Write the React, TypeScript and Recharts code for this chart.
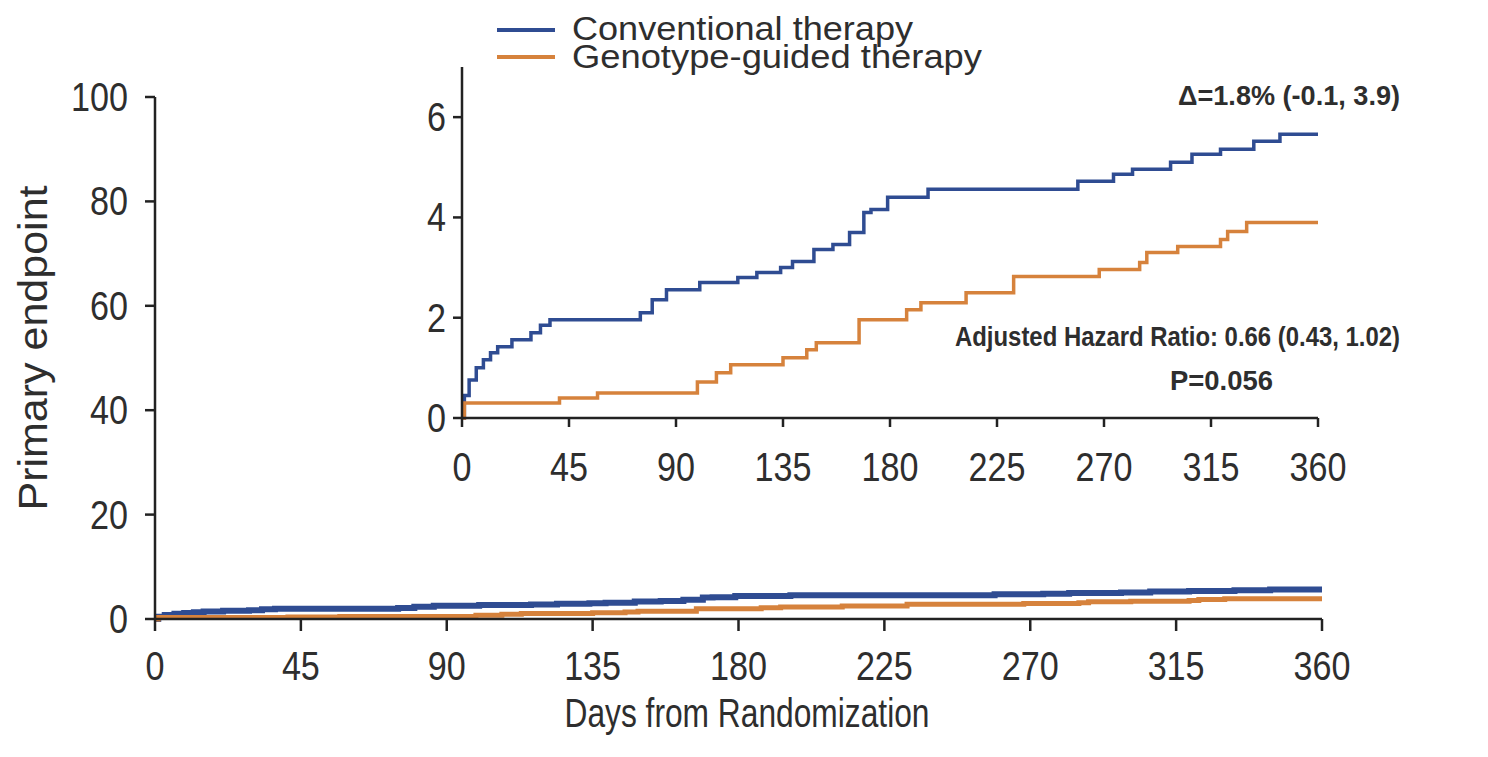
import { LineChart, Line, XAxis, YAxis, Legend } from "recharts";

// Kaplan-Meier style cumulative incidence (%)
const conventionalDays = [
  0, 1, 3, 6, 9, 12, 15, 21, 29, 33, 37, 75, 80, 86, 100, 116, 124, 134, 139, 148, 156, 163, 169,
  172, 179, 196, 259, 274, 282, 298, 307, 319, 333, 344, 360,
];
const conventionalPct = [
  0, 0.45, 0.76, 1.0, 1.16, 1.3, 1.42, 1.56, 1.7, 1.85, 1.96, 2.1, 2.36, 2.56, 2.7, 2.8, 2.9, 3.0,
  3.12, 3.36, 3.46, 3.7, 4.1, 4.16, 4.4, 4.56, 4.72, 4.86, 4.96, 5.1, 5.26, 5.36, 5.52, 5.66, 5.66,
];
const genotypeDays = [
  0, 1, 41, 57, 99, 107, 113, 135, 145, 149, 167, 187, 193, 212, 232, 268, 285, 288, 301, 319, 322,
  330, 360,
];
const genotypePct = [
  0, 0.3, 0.4, 0.5, 0.72, 0.9, 1.06, 1.2, 1.36, 1.5, 1.96, 2.16, 2.3, 2.5, 2.82, 2.96, 3.1, 3.3,
  3.42, 3.56, 3.72, 3.9, 3.9,
];

const dayTicks = [0, 45, 90, 135, 180, 225, 270, 315, 360];
const mainPctTicks = [0, 20, 40, 60, 80, 100];
const insetPctTicks = [0, 2, 4, 6];

const seriesNames = ["Conventional therapy", "Genotype-guided therapy"];

const BLUE = "#2F4C92";
const ORANGE = "#D6823C";
const INK = "#2e2e2e";
const FONT = "'Liberation Sans', Arial, sans-serif";
const DIGIT_W = 19;

const conventional = conventionalDays.map((day, i) => ({ day, v: conventionalPct[i] }));
const genotype = genotypeDays.map((day, i) => ({ day, v: genotypePct[i] }));

const xTick = (dy: number) => (props: any) => {
  const s = String(props.payload.value);
  return (
    <text
      x={props.x}
      y={props.y + dy}
      textAnchor="middle"
      fontSize={40}
      fontFamily={FONT}
      fill={INK}
      textLength={s.length * DIGIT_W}
      lengthAdjust="spacingAndGlyphs"
    >
      {s}
    </text>
  );
};

const yTick = (dx: number) => (props: any) => {
  const s = String(props.payload.value);
  return (
    <text
      x={props.x + dx}
      y={props.y + 14}
      textAnchor="end"
      fontSize={40}
      fontFamily={FONT}
      fill={INK}
      textLength={s.length * DIGIT_W}
      lengthAdjust="spacingAndGlyphs"
    >
      {s}
    </text>
  );
};

const axisStroke = { stroke: "#222", strokeWidth: 2.5 };

function LegendBox() {
  return (
    <svg width={520} height={80} style={{ display: "block" }}>
      <line x1={7} y1={30} x2={65} y2={30} stroke={BLUE} strokeWidth={4} />
      <text x={82} y={40} fontSize={33} fontFamily={FONT} fill={INK} textLength={341} lengthAdjust="spacingAndGlyphs">
        {seriesNames[0]}
      </text>
      <line x1={7} y1={57} x2={65} y2={57} stroke={ORANGE} strokeWidth={4} />
      <text x={82} y={68} fontSize={33} fontFamily={FONT} fill={INK} textLength={410} lengthAdjust="spacingAndGlyphs">
        {seriesNames[1]}
      </text>
    </svg>
  );
}

export default function App() {
  return (
    <div style={{ position: "absolute", left: 0, top: 0, width: 1488, height: 757, background: "#fff", overflow: "hidden" }}>
      {/* main chart, 0-100 scale */}
      <div style={{ position: "absolute", left: 0, top: 0 }}>
        <LineChart width={1488} height={757} margin={{ top: 97, right: 166, bottom: 137, left: 154 }}>
          <XAxis
            type="number"
            dataKey="day"
            domain={[0, 360]}
            ticks={dayTicks}
            height={1}
            tickSize={12}
            tickMargin={0}
            axisLine={axisStroke}
            tickLine={axisStroke}
            tick={xTick(49)}
            allowDuplicatedCategory={false}
          />
          <YAxis
            type="number"
            domain={[0, 100]}
            ticks={mainPctTicks}
            width={1}
            tickSize={10}
            tickMargin={0}
            axisLine={axisStroke}
            tickLine={axisStroke}
            tick={yTick(-17)}
          />
          <Line
            data={conventional}
            dataKey="v"
            type="stepAfter"
            stroke={BLUE}
            strokeWidth={6}
            dot={false}
            isAnimationActive={false}
          />
          <Line
            data={genotype}
            dataKey="v"
            type="stepAfter"
            stroke={ORANGE}
            strokeWidth={5}
            dot={false}
            isAnimationActive={false}
          />
        </LineChart>
      </div>

      {/* inset, 0-7 scale */}
      <div style={{ position: "absolute", left: 0, top: 0 }}>
        <LineChart width={1488} height={757} margin={{ top: 67, right: 170, bottom: 338, left: 461 }}>
          <XAxis
            type="number"
            dataKey="day"
            domain={[0, 360]}
            ticks={dayTicks}
            height={1}
            tickSize={9}
            tickMargin={0}
            axisLine={axisStroke}
            tickLine={axisStroke}
            tick={xTick(54)}
            allowDuplicatedCategory={false}
          />
          <YAxis
            type="number"
            domain={[0, 7]}
            ticks={insetPctTicks}
            width={1}
            tickSize={9}
            tickMargin={0}
            axisLine={axisStroke}
            tickLine={axisStroke}
            tick={yTick(-7)}
          />
          <Legend
            layout="horizontal"
            verticalAlign="middle"
            align="center"
            wrapperStyle={{ left: 490, top: 0, width: 520, height: 80 }}
            content={() => <LegendBox />}
          />
          <Line
            data={conventional}
            dataKey="v"
            name={seriesNames[0]}
            type="stepAfter"
            stroke={BLUE}
            strokeWidth={3.5}
            dot={false}
            isAnimationActive={false}
          />
          <Line
            data={genotype}
            dataKey="v"
            name={seriesNames[1]}
            type="stepAfter"
            stroke={ORANGE}
            strokeWidth={3.5}
            dot={false}
            isAnimationActive={false}
          />
        </LineChart>
      </div>

      {/* titles and annotations */}
      <svg width={1488} height={757} style={{ position: "absolute", left: 0, top: 0, pointerEvents: "none" }}>
        <text
          transform="translate(47, 348) rotate(-90)"
          textAnchor="middle"
          fontSize={40}
          fontFamily={FONT}
          fill={INK}
          textLength={325}
          lengthAdjust="spacingAndGlyphs"
        >
          Primary endpoint
        </text>
        <text x={747} y={727} textAnchor="middle" fontSize={40} fontFamily={FONT} fill={INK} textLength={365} lengthAdjust="spacingAndGlyphs">
          Days from Randomization
        </text>
        <text x={1178} y={105} fontSize={27} fontWeight="bold" fontFamily={FONT} fill={INK} textLength={222} lengthAdjust="spacingAndGlyphs">
          Δ=1.8% (-0.1, 3.9)
        </text>
        <text x={955} y={346} fontSize={28} fontWeight="bold" fontFamily={FONT} fill={INK} textLength={445} lengthAdjust="spacingAndGlyphs">
          Adjusted Hazard Ratio: 0.66 (0.43, 1.02)
        </text>
        <text x={1170} y={390} fontSize={28} fontWeight="bold" fontFamily={FONT} fill={INK} textLength={103} lengthAdjust="spacingAndGlyphs">
          P=0.056
        </text>
      </svg>
    </div>
  );
}
